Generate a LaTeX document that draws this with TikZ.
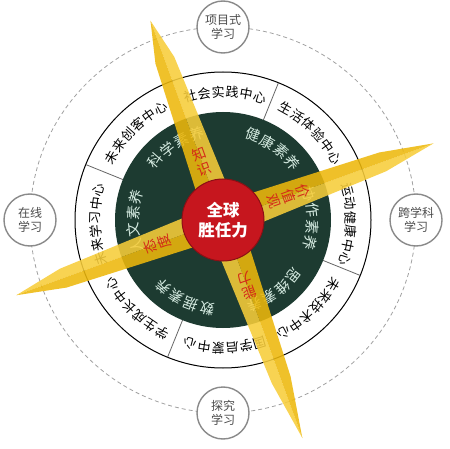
\documentclass[tikz,border=0pt]{standalone}
\usepackage{fontspec}
\setmainfont{Noto Sans CJK SC}
\usetikzlibrary{calc}
\definecolor{dkgreen}{HTML}{1D3B31}
\definecolor{beamA}{HTML}{F7CD3A}
\definecolor{beamB}{HTML}{EDB80C}
\definecolor{redc}{HTML}{C6161E}
\definecolor{beamtxt}{HTML}{D42A18}
\definecolor{mint}{HTML}{D6ECE2}
\definecolor{ringgray}{HTML}{8A8A8A}
\tikzset{
  smallc/.style={circle, draw=ringgray, line width=1.4pt, fill=white, minimum size=52pt, inner sep=0pt, align=center, font=\fontsize{12}{14}\selectfont, text=black!70},
  outertxt/.style={font=\fontsize{13}{13}\selectfont, text=black, inner sep=0pt},
  innertxt/.style={font=\fontsize{14.5}{15}\selectfont, text=mint, inner sep=0pt},
  beamlbl/.style={font=\fontsize{14}{15.5}\selectfont, text=beamtxt, inner sep=0pt, align=center},
  divider/.style={draw=black!60, line width=0.8pt}
}
% #1 name, #2 radius, #3 centre angle, #4 step, #5 count, #6 style, #7 chars
\newcommand\arcText[7]{%
  \foreach \ch [count=\i] in {#7} {
    \pgfmathsetmacro\ang{#3 + (#5+1)/2*#4 - \i*#4}
    \node[#6, rotate=\ang-90] (#1-\i) at ($(C)+(\ang:#2)$) {\ch};
  }%
}
% arm: #1 angle, #2 length
\newcommand\beamArm[2]{%
  \fill[beamA, opacity=0.88] (C) -- ($(C)+(#1-90:17)$) -- ($(C)+(#1:170)+(#1-90:10)$) -- ($(C)+(#1:#2)$) -- cycle;
  \fill[beamB, opacity=0.88] (C) -- ($(C)+(#1+90:17)$) -- ($(C)+(#1:170)+(#1+90:10)$) -- ($(C)+(#1:#2)$) -- cycle;
}
\newcommand\beamLabel[4]{% name, angle, radius, text (stacked)
  \node[beamlbl, rotate=#2-90] (#1) at ($(C)+(#2:#3)$) {#4};
}
\begin{document}
\begin{tikzpicture}[x=1pt,y=1pt]
\useasboundingbox (0,0) rectangle (450,448);
\coordinate (C) at (223,228);
% dashed orbit
\draw[ringgray!80, line width=0.8pt, dash pattern=on 4pt off 3pt] (C) circle (193);
\node[smallc] (xm) at ($(C)+(90:193)$) {项目式\\学习};
\node[smallc] (zx) at ($(C)+(180:193)$) {在线\\学习};
\node[smallc] (kx) at ($(C)+(0:193)$) {跨学科\\学习};
\node[smallc] (tj) at ($(C)+(270:193)$) {探究\\学习};
% outer ring
\fill[white] (C) circle (148);
\draw[black, line width=1pt] (C) circle (148);
\foreach \a in {68,158,248,338} \draw[divider] ($(C)+(\a:108)$) -- ($(C)+(\a:148)$);
\arcText{sh}{128}{89}{6.3}{6}{outertxt}{社,会,实,践,中,心}
\arcText{shtx}{128}{45}{6.3}{6}{outertxt}{生,活,体,验,中,心}
\arcText{yd}{128}{-2}{6.3}{6}{outertxt}{运,动,健,康,中,心}
\arcText{js}{128}{-46}{6.3}{6}{outertxt}{未,来,技,术,中,心}
\arcText{gx}{128}{-89}{6.3}{6}{outertxt}{国,学,启,蒙,中,心}
\arcText{cz}{128}{226}{6.3}{6}{outertxt}{学,生,成,长,中,心}
\arcText{xx}{128}{182}{6.3}{6}{outertxt}{未,来,学,习,中,心}
\arcText{ck}{128}{135}{6.3}{6}{outertxt}{未,来,创,客,中,心}
% green disk
\fill[dkgreen] (C) circle (108);
\arcText{rw}{90}{181}{10.5}{4}{innertxt}{人,文,素,养}
\arcText{kx}{90}{123}{10.5}{4}{innertxt}{科,学,素,养}
\arcText{jk}{90}{55}{10.5}{4}{innertxt}{健,康,素,养}
\arcText{xz}{90}{1}{10.5}{4}{innertxt}{协,作,素,养}
\arcText{sw}{90}{-54}{10.5}{4}{innertxt}{思,维,素,养}
\arcText{sj}{90}{-116}{10.5}{4}{innertxt}{数,据,素,养}
% beams
\beamArm{110}{212}
\beamArm{290}{232}
\beamArm{20}{224}
\beamArm{200}{220}
% centre
\node[circle, fill=redc, draw=redc!70!black, line width=1pt, minimum size=82pt, inner sep=0pt, align=center, text=white, font=\fontsize{16.5}{20}\selectfont\bfseries] (core) at (C) {全球\\胜任力};
\beamLabel{zs}{110}{62}{知\\识}
\beamLabel{jz}{20}{70}{价\\值\\观}
\beamLabel{nl}{290}{70}{能\\力}
\beamLabel{td}{200}{70}{态\\度}
\end{tikzpicture}
\end{document}
